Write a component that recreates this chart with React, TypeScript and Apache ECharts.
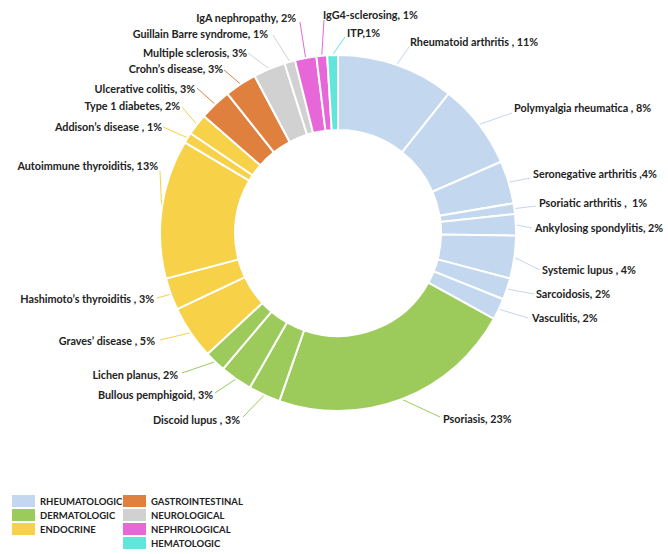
import React, { useEffect, useRef } from "react";
import * as echarts from "echarts";

// ---- data ----
const groups = [
  "RHEUMATOLOGIC",
  "DERMATOLOGIC",
  "ENDOCRINE",
  "GASTROINTESTINAL",
  "NEUROLOGICAL",
  "NEPHROLOGICAL",
  "HEMATOLOGIC",
];
const groupColors = ["#C3D7EE", "#9CCB5C", "#F7D147", "#E0803E", "#D1D1D1", "#E767D8", "#62E5DB"];

const diseases = [
  "Rheumatoid arthritis",
  "Polymyalgia rheumatica",
  "Seronegative arthritis",
  "Psoriatic arthritis",
  "Ankylosing spondylitis",
  "Systemic lupus",
  "Sarcoidosis",
  "Vasculitis",
  "Psoriasis",
  "Discoid lupus",
  "Bullous pemphigoid",
  "Lichen planus",
  "Graves’ disease",
  "Hashimoto’s thyroiditis",
  "Autoimmune thyroiditis",
  "Addison’s disease",
  "Type 1 diabetes",
  "Ulcerative colitis",
  "Crohn’s disease",
  "Multiple sclerosis",
  "Guillain Barre syndrome",
  "IgA nephropathy",
  "IgG4-sclerosing",
  "ITP",
];
const percents = [11, 8, 4, 1, 2, 4, 2, 2, 23, 3, 3, 2, 5, 3, 13, 1, 2, 3, 3, 3, 1, 2, 1, 1];
const diseaseGroup = [0, 0, 0, 0, 0, 0, 0, 0, 1, 1, 1, 1, 2, 2, 2, 2, 2, 3, 3, 4, 4, 5, 5, 6];
const labelTexts = [
  "Rheumatoid arthritis , 11%",
  "Polymyalgia rheumatica , 8%",
  "Seronegative arthritis ,4%",
  "Psoriatic arthritis ,  1%",
  "Ankylosing spondylitis, 2%",
  "Systemic lupus , 4%",
  "Sarcoidosis, 2%",
  "Vasculitis, 2%",
  "Psoriasis, 23%",
  "Discoid lupus , 3%",
  "Bullous pemphigoid, 3%",
  "Lichen planus, 2%",
  "Graves’ disease , 5%",
  "Hashimoto’s thyroiditis , 3%",
  "Autoimmune thyroiditis, 13%",
  "Addison’s disease , 1%",
  "Type 1 diabetes, 2%",
  "Ulcerative colitis, 3%",
  "Crohn’s disease, 3%",
  "Multiple sclerosis, 3%",
  "Guillain Barre syndrome, 1%",
  "IgA nephropathy, 2%",
  "IgG4-sclerosing, 1%",
  "ITP,1%",
];

// ---- layout (label anchor x, y, alignment, connector end x, y) ----
const labelPlacement: [number, number, string, number, number][] = [
  [410, 41, "left", 409, 47],
  [514, 107, "left", 512, 113],
  [533, 173, "left", 531, 178],
  [539, 202, "left", 536, 206],
  [535, 227, "left", 532, 228],
  [542, 269, "left", 540, 270],
  [536, 293, "left", 534, 294],
  [532, 317, "left", 528, 318],
  [443, 418, "left", 440, 417],
  [240, 419, "right", 243, 417],
  [213, 394, "right", 215, 393],
  [178, 374, "right", 182, 373],
  [155, 340, "right", 160, 340],
  [154, 298, "right", 157, 298],
  [158, 165, "right", 160, 171],
  [162, 126, "right", 163, 127],
  [180, 105, "right", 182, 107],
  [195, 88, "right", 197, 88],
  [223, 68, "right", 224, 70],
  [247, 52, "right", 248, 53],
  [268, 33, "right", 273, 35],
  [296, 17, "right", 300, 22],
  [323, 14, "left", 324, 20],
  [347, 32, "left", 345, 37],
];

const FONT = "Lato, 'Open Sans', sans-serif";

export default function App() {
  const ref = useRef<HTMLDivElement>(null);

  useEffect(() => {
    if (!ref.current) return;
    const chart = echarts.init(ref.current, undefined, { renderer: "svg" });

    const pieData = diseases.map((name, i) => ({
      name,
      value: percents[i],
      itemStyle: { color: groupColors[diseaseGroup[i]] },
      labelLine: { lineStyle: { color: groupColors[diseaseGroup[i]] } },
    }));

    const groupTotals = groups.map((_, g) =>
      percents.reduce((s, v, i) => (diseaseGroup[i] === g ? s + v : s), 0)
    );
    const groupData = groups.map((name, g) => ({
      name,
      value: groupTotals[g],
      itemStyle: { color: groupColors[g] },
    }));

    const legendCommon = {
      orient: "vertical" as const,
      icon: "rect",
      itemWidth: 23,
      itemHeight: 12,
      itemGap: 2,
      padding: 0,
      selectedMode: false,
      textStyle: {
        fontFamily: FONT,
        fontWeight: "bold" as const,
        fontSize: 9.5,
        color: "#222",
        lineHeight: 12,
      },
      top: 495,
    };

    chart.setOption({
      animation: false,
      backgroundColor: "#fff",
      legend: [
        { ...legendCommon, left: 12, data: groups.slice(0, 3) },
        { ...legendCommon, left: 123, data: groups.slice(3) },
      ],
      series: [
        {
          type: "pie",
          center: [338, 233],
          radius: [103, 178],
          startAngle: 90,
          clockwise: true,
          avoidLabelOverlap: false,
          silent: true,
          itemStyle: { borderColor: "#fff", borderWidth: 2 },
          label: {
            show: true,
            position: "outside",
            formatter: (p: any) => labelTexts[p.dataIndex],
            fontFamily: FONT,
            fontWeight: "bold",
            fontSize: 10.8,
            color: "#222",
          },
          labelLine: { show: true, length: 10, length2: 10, lineStyle: { width: 1 } },
          labelLayout: (p: any) => {
            const pl = labelPlacement[p.dataIndex];
            if (!pl) return {};
            const [x, y, align, ex, ey] = pl;
            const start = p.labelLinePoints ? p.labelLinePoints[0] : [ex, ey];
            return {
              x,
              y,
              align,
              verticalAlign: "middle",
              labelLinePoints: [start, start, [ex, ey]],
            };
          },
          data: pieData,
        },
        {
          type: "pie",
          center: [338, 233],
          radius: [0, 0],
          silent: true,
          label: { show: false },
          labelLine: { show: false },
          data: groupData,
        },
      ],
    });

    return () => chart.dispose();
  }, []);

  return (
    <div
      ref={ref}
      style={{ position: "absolute", left: 0, top: 0, width: 668, height: 554 }}
    />
  );
}
